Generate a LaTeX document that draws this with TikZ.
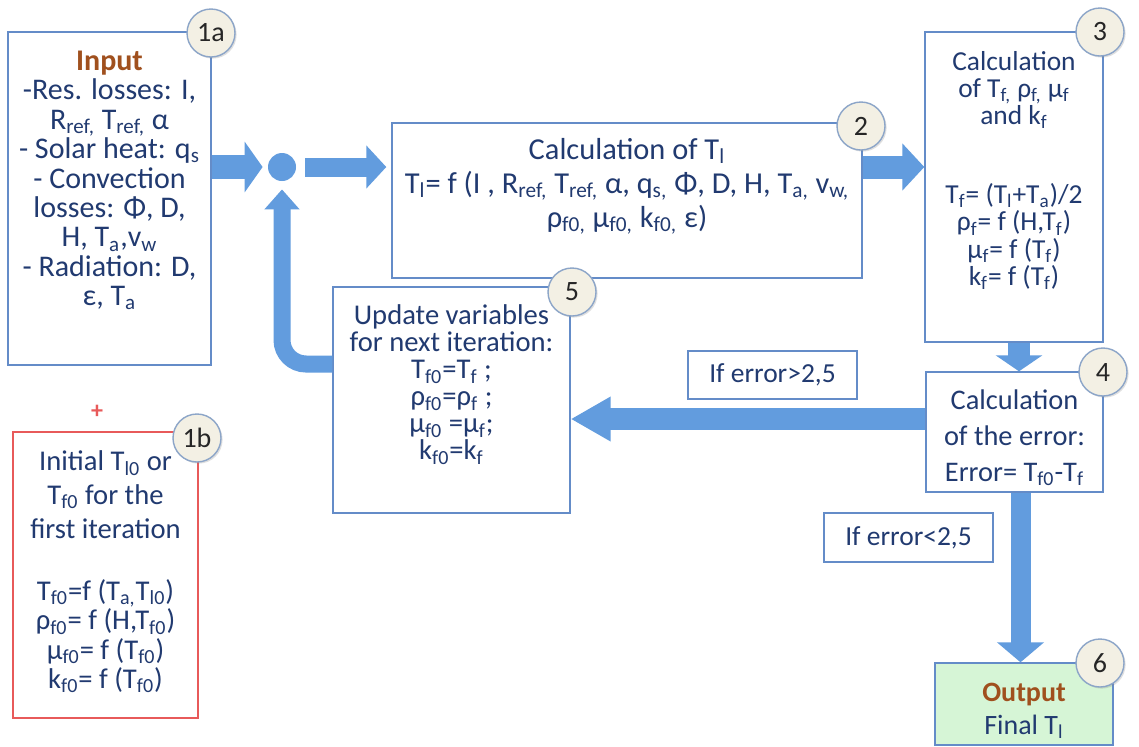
\documentclass[tikz,border=0pt]{standalone}
\usepackage{fontspec}
\setmainfont{Carlito}
\usetikzlibrary{arrows.meta,shadows,calc}
\definecolor{navy}{RGB}{33,58,112}
\definecolor{boxblue}{RGB}{100,140,200}
\definecolor{brownt}{RGB}{160,80,30}
\definecolor{arrowblue}{RGB}{98,156,222}
\definecolor{numfill}{RGB}{243,240,228}
\definecolor{numedge}{RGB}{140,165,200}
\definecolor{redbox}{RGB}{232,90,90}
\definecolor{outfill}{RGB}{214,245,214}
\newcommand\sub[1]{\textsubscript{#1}}
\tikzset{
  box/.style={draw=boxblue, line width=0.7pt, fill=white, inner sep=0pt, text=navy},
  num/.style={circle, draw=numedge, line width=0.7pt, fill=numfill, minimum size=24pt, inner sep=0pt,
    font=\fontsize{14pt}{14pt}\selectfont, text=black!85,
    drop shadow={opacity=0.25, shadow xshift=0.8pt, shadow yshift=-0.8pt}},
  fat/.style={draw=arrowblue, line width=#1},
  fat/.default=11pt
}
\begin{document}
\begin{tikzpicture}[x=0.5pt,y=-0.5pt]
\useasboundingbox (0,0) rectangle (1139,746);
\fill[white] (0,0) rectangle (1139,746);

% boxes
\node[box] (b1a) at (109.5,198.5) {\parbox[c][166.5pt][t]{101.5pt}{\centering\fontsize{15pt}{14.7pt}\selectfont\vspace*{9.5pt}%
{\color{brownt}\bfseries Input}\\
-Res. losses: I,\\
R\sub{ref,} T\sub{ref,} α\\
- Solar heat: q\sub{s}\\
- Convection\\
losses: Φ, D,\\
H, T\sub{a},v\sub{w}\\
- Radiation: D,\\
ε, T\sub{a}}};

\node[box, draw=redbox] (b1b) at (105.5,575) {\parbox[c][143pt][t]{92.5pt}{\centering\fontsize{14.3pt}{14.6pt}\selectfont\vspace*{9.5pt}%
Initial T\sub{l0} or\\[2.3pt]
T\sub{f0} for the\\[2.3pt]
first iteration\\[16.5pt]
T\sub{f0}=f (T\sub{a,}T\sub{l0})\\
ρ\sub{f0}= f (H,T\sub{f0})\\
μ\sub{f0}= f (T\sub{f0})\\
k\sub{f0}= f (T\sub{f0})}};

\node[box] (b2) at (627,200.5) {\parbox[c][77.5pt][t]{235pt}{\centering\fontsize{15.2pt}{17pt}\selectfont\vspace*{7.5pt}%
Calculation of T\sub{l}\\
T\sub{l}= f (I , R\sub{ref,} T\sub{ref,} α, q\sub{s,} Φ, D, H, T\sub{a,} v\sub{w,}\\
ρ\sub{f0,} μ\sub{f0,} k\sub{f0,} ε)}};

\node[box] (b3) at (1014,187) {\parbox[c][155pt][t]{89pt}{\centering\fontsize{13.7pt}{13.6pt}\selectfont\vspace*{9.5pt}%
Calculation\\
of T\sub{f,} ρ\sub{f,} μ\sub{f}\\
and k\sub{f}\\[26pt]
T\sub{f}= (T\sub{l}+T\sub{a})/2\\
ρ\sub{f}= f (H,T\sub{f})\\
μ\sub{f}= f (T\sub{f})\\
k\sub{f}= f (T\sub{f})}};

\node[box] (b4) at (1014.5,432) {\parbox[c][60pt][c]{88.5pt}{\centering\fontsize{14.2pt}{18pt}\selectfont\vspace*{6pt}%
Calculation\\
of the error:\\
Error= T\sub{f0}-T\sub{f}}};

\node[box] (b5) at (451.5,400) {\parbox[c][113pt][t]{118.5pt}{\centering\fontsize{14.3pt}{13.5pt}\selectfont\vspace*{9pt}%
Update variables\\
for next iteration:\\
T\sub{f0}=T\sub{f} ;\\
ρ\sub{f0}=ρ\sub{f} ;\\
μ\sub{f0} =μ\sub{f};\\
k\sub{f0}=k\sub{f}}};

\node[box, fill=outfill] (b6) at (1024,704) {\parbox[c][41pt][c]{89pt}{\centering\fontsize{14pt}{16.5pt}\selectfont\vspace*{7pt}%
{\color{brownt}\bfseries Output}\\
Final T\sub{l}}};

\node[box] (gt) at (772.5,375) {\parbox[c][24pt][c]{84.5pt}{\centering\fontsize{13.75pt}{14pt}\selectfont If error>2,5}};
\node[box] (lt) at (908.5,537.5) {\parbox[c][24.5pt][c]{84.5pt}{\centering\fontsize{13.75pt}{14pt}\selectfont If error<2,5}};

\node[text=redbox, font=\fontsize{12pt}{12pt}\selectfont\bfseries] (plus) at (97,412) {+};

% junction dot
\node[circle, fill=arrowblue, minimum size=14pt, inner sep=0pt] (dot) at (282,167) {};

% fat arrows
\draw[fat=12pt, -{Triangle[length=9pt,width=25pt]}] (b1a.east |- dot.center) -- ([xshift=-2.5pt]dot.west);
\draw[fat=9.5pt, -{Triangle[length=10pt,width=21pt]}] ([xshift=4.5pt]dot.east) -- ([xshift=-2.5pt]b2.west |- dot.center);
\draw[fat=11.5pt, -{Triangle[length=11pt,width=23pt]}] (b2.east |- dot.center) -- (b3.west |- dot.center);
\coordinate (d34) at ([xshift=2.5pt]b3.south);
\draw[fat=11pt, -{Triangle[length=8pt,width=23pt]}] (d34) -- (d34 |- b4.north);
\coordinate (e4) at ([yshift=6.5pt]b4.west);
\draw[fat=11pt, -{Triangle[length=20pt,width=21pt]}] (e4) -- (e4 -| b5.east);
\coordinate (d46) at ([xshift=3pt]b4.south);
\draw[fat=10pt, -{Triangle[length=10pt,width=23pt]}] (d46) -- (d46 |- b6.north);
\draw[fat=8.5pt, rounded corners=12pt, -{Triangle[length=10pt,width=17pt]}] ([yshift=18pt]b5.west) -| ([yshift=-4pt]dot.south);

% number circles
\node[num] (c1a) at (211,33) {1a};
\node[num] (c1b) at (197,438) {1b};
\node[num] (c2) at (861,126) {2};
\node[num] (c3) at (1100,32) {3};
\node[num] (c4) at (1103,372) {4};
\node[num] (c5) at (572,292) {5};
\node[num] (c6) at (1100,663) {6};
\end{tikzpicture}
\end{document}
